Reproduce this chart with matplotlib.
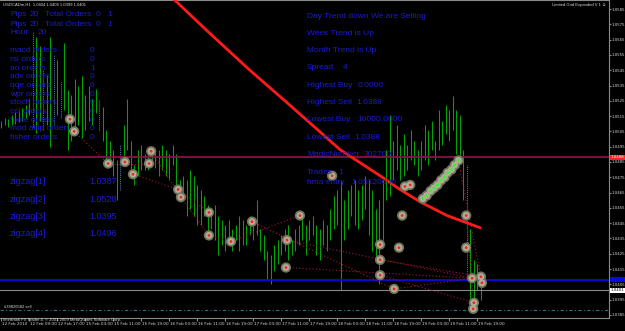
import matplotlib
matplotlib.use('Agg')
import matplotlib.pyplot as plt
import matplotlib.transforms as mtransforms
import numpy as np

# ---------------- data ----------------
bar_high = [1.0512, 1.0514, 1.0513, 1.0516, 1.0518, 1.0519, 1.0520, 1.0522, 1.0526, 1.0570,
            1.0567, 1.0561, 1.0545, 1.0542, 1.0567, 1.0555, 1.0552, 1.0537, 1.0563, 1.0532,
            1.0529, 1.0539, 1.0535, 1.0541, 1.0529, 1.0535, 1.0526, 1.0533, 1.0526, 1.0521,
            1.0506, 1.0499, 1.0493, 1.0486, 1.0496, 1.0509, 1.0526, 1.0499, 1.0483, 1.0493,
            1.0496, 1.0490, 1.0494, 1.0495, 1.0493, 1.0493, 1.0496, 1.0493, 1.0490, 1.0496,
            1.0490, 1.0473, 1.0476, 1.0473, 1.0480, 1.0476, 1.0470, 1.0467, 1.0463, 1.0457,
            1.0454, 1.0457, 1.0450, 1.0447, 1.0444, 1.0447, 1.0441, 1.0444, 1.0450, 1.0447,
            1.0444, 1.0450, 1.0447, 1.0460, 1.0441, 1.0437, 1.0427, 1.0424, 1.0431, 1.0434,
            1.0437, 1.0441, 1.0444, 1.0434, 1.0441, 1.0444, 1.0450, 1.0444, 1.0447, 1.0450,
            1.0444, 1.0441, 1.0447, 1.0444, 1.0454, 1.0463, 1.0467, 1.0473, 1.0460, 1.0467,
            1.0470, 1.0473, 1.0467, 1.0470, 1.0476, 1.0473, 1.0467, 1.0454, 1.0460, 1.0473,
            1.0493, 1.0516, 1.0499, 1.0509, 1.0496, 1.0503, 1.0496, 1.0506, 1.0499, 1.0493,
            1.0499, 1.0509, 1.0506, 1.0512, 1.0499, 1.0519, 1.0512, 1.0522, 1.0519, 1.0528,
            1.0519, 1.0516, 1.0493, 1.0483, 1.0441, 1.0421, 1.0418, 1.0414]
bar_low = [1.0507, 1.0509, 1.0508, 1.0509, 1.0510, 1.0511, 1.0512, 1.0514, 1.0516, 1.0508,
           1.0504, 1.0512, 1.0506, 1.0509, 1.0495, 1.0509, 1.0516, 1.0514, 1.0519, 1.0493,
           1.0499, 1.0506, 1.0509, 1.0501, 1.0506, 1.0512, 1.0509, 1.0517, 1.0506, 1.0499,
           1.0486, 1.0483, 1.0476, 1.0460, 1.0467, 1.0486, 1.0493, 1.0480, 1.0470, 1.0476,
           1.0480, 1.0480, 1.0480, 1.0483, 1.0481, 1.0476, 1.0480, 1.0476, 1.0473, 1.0483,
           1.0470, 1.0460, 1.0460, 1.0450, 1.0454, 1.0450, 1.0444, 1.0444, 1.0450, 1.0437,
           1.0441, 1.0434, 1.0424, 1.0431, 1.0427, 1.0434, 1.0427, 1.0434, 1.0427, 1.0431,
           1.0431, 1.0437, 1.0434, 1.0437, 1.0427, 1.0421, 1.0408, 1.0405, 1.0414, 1.0418,
           1.0424, 1.0427, 1.0421, 1.0424, 1.0427, 1.0431, 1.0434, 1.0424, 1.0434, 1.0437,
           1.0424, 1.0421, 1.0431, 1.0427, 1.0434, 1.0441, 1.0444, 1.0401, 1.0434, 1.0441,
           1.0450, 1.0444, 1.0441, 1.0447, 1.0454, 1.0437, 1.0427, 1.0421, 1.0405, 1.0434,
           1.0460, 1.0463, 1.0473, 1.0480, 1.0473, 1.0476, 1.0480, 1.0486, 1.0483, 1.0476,
           1.0480, 1.0486, 1.0483, 1.0493, 1.0486, 1.0493, 1.0496, 1.0503, 1.0499, 1.0506,
           1.0490, 1.0486, 1.0460, 1.0408, 1.0395, 1.0387, 1.0401, 1.0395]
blue_bars = [9, 12, 15, 17, 28, 34, 133]

time_labels = ["12 Feb 2010", "12 Feb 09:00", "12 Feb 17:00", "15 Feb 03:00", "15 Feb 11:00",
               "15 Feb 19:00", "16 Feb 03:00", "16 Feb 11:00", "16 Feb 19:00", "17 Feb 03:00",
               "17 Feb 11:00", "17 Feb 19:00", "18 Feb 03:00", "18 Feb 11:00", "18 Feb 19:00",
               "19 Feb 03:00", "19 Feb 11:00", "19 Feb 19:00"]
price_ticks = [1.0385 + 0.001 * k for k in range(21)]

# zigzag / signal markers (bar index, price)
mark_bar = [19.7, 20.9, 30.6, 35.4, 42.9, 42.3, 37.7, 50.6, 51.4, 59.4, 59.4, 65.7, 71.7,
            81.7, 81.4, 85.4, 94.6, 108.3, 108.3, 108.3, 114.6, 113.7, 112.3, 115.4, 116.9,
            132.9, 132.9, 134.6, 137.1, 137.4, 135.1, 134.9]
mark_price = [1.0513, 1.0505, 1.0484, 1.0485, 1.0492, 1.0484, 1.0477, 1.0467, 1.0462, 1.0452,
              1.0437, 1.0433, 1.0446, 1.0434, 1.0416, 1.0450, 1.0476, 1.0431, 1.0421, 1.0411,
              1.0450, 1.0429, 1.0402, 1.0469, 1.0470, 1.0450, 1.0429, 1.0409, 1.0410, 1.0406,
              1.0393, 1.0389]
chain_bar = [120.5, 121.6, 122.7, 123.7, 124.7, 125.7, 126.7, 127.6, 128.7, 129.6, 130.7]
chain_price = [1.0461, 1.0463, 1.0466, 1.0468, 1.0470, 1.0473, 1.0475, 1.0478, 1.0480, 1.0483, 1.0486]

# dotted connector segments (from bar, from price, to bar, to price)
seg_b0 = [20.9, 30.6, 37.7, 50.6, 42.9, 51.4, 59.4, 65.7, 81.4, 81.7, 108.3, 130.7, 132.9, 108.3, 112.3, 71.7]
seg_p0 = [1.0505, 1.0484, 1.0477, 1.0467, 1.0492, 1.0462, 1.0437, 1.0433, 1.0416, 1.0434, 1.0421, 1.0486, 1.0450, 1.0411, 1.0402, 1.0446]
seg_b1 = [30.6, 42.3, 50.6, 59.4, 51.4, 59.4, 65.7, 85.4, 134.6, 134.6, 137.1, 137.4, 135.1, 135.1, 134.6, 112.3]
seg_p1 = [1.0484, 1.0484, 1.0467, 1.0452, 1.0462, 1.0437, 1.0433, 1.0450, 1.0409, 1.0409, 1.0410, 1.0406, 1.0393, 1.0393, 1.0409, 1.0402]

# red moving average (bar, price)
ma_bar = [45.4, 59.7, 71.1, 82.6, 96.9, 108.3, 114.0, 119.7, 127.4, 136.9]
ma_price = [1.0600, 1.0569, 1.0545, 1.0522, 1.0493, 1.0476, 1.0467, 1.0459, 1.0450, 1.0442]

order_line = 1.0488
blue_line = 1.0408
bid_line = 1.0401
sell_line = 1.0388

# ---------------- figure ----------------
W, H = 625, 331
fig = plt.figure(figsize=(W / 100, H / 100), dpi=100, facecolor='black')
ax = fig.add_axes([0, 13 / H, 609 / W, 318 / H], facecolor='black')
ax.set_xlim(-0.29, 173.7)
ax.set_ylim(1.03830, 1.05909)

x = np.arange(len(bar_high))
green_idx = [i for i in x if i not in blue_bars]
ax.vlines([x[i] for i in green_idx], [bar_low[i] for i in green_idx],
          [bar_high[i] for i in green_idx], colors='#00a400', lw=0.75, zorder=2)
ax.vlines([x[i] for i in blue_bars], [bar_low[i] for i in blue_bars],
          [bar_high[i] for i in blue_bars], colors='#4a78b0', lw=0.75,
          linestyles=(0, (1, 1)), zorder=2)

# horizontal lines
ax.axhline(order_line, color='#8c1048', lw=1.3, zorder=3)
ax.axhline(blue_line, color='#0a0ae0', lw=1.3, zorder=3)
ax.axhline(bid_line, color='#8a8a8a', lw=0.8, zorder=3)
ax.axhline(sell_line, color='#2a7090', lw=0.8, linestyle=(0, (3, 2, 1, 2)), zorder=3)

# MA line
ax.plot(ma_bar, ma_price, color='#ff1a1a', lw=2.0, zorder=4, solid_capstyle='round')

# dotted connectors
for b0, p0, b1, p1 in zip(seg_b0, seg_p0, seg_b1, seg_p1):
    ax.plot([b0, b1], [p0, p1], color='#a01830', lw=0.8, linestyle=(0, (1, 2)), zorder=3)

# markers
for bx, py, cc in ((mark_bar, mark_price, '#ff2020'), (chain_bar, chain_price, '#20ff20')):
    ax.scatter(bx, py, s=55, color='#747460', edgecolors='none', zorder=5)
    ax.scatter(bx, py, s=24, color='#b0ae96', edgecolors='none', zorder=6)
    ax.scatter(bx, py, s=4, color=cc, edgecolors='none', zorder=7)

# axes styling
ax.spines['left'].set_visible(False)
for s in ['right', 'bottom', 'top']:
    ax.spines[s].set_color('#8a8a8a')
    ax.spines[s].set_linewidth(0.8)
ax.yaxis.tick_right()
ax.set_yticks(price_ticks)
ax.set_yticklabels([f"{v:.4f}" for v in price_ticks])
ax.tick_params(axis='y', colors='#8a8a8a', labelcolor='#d8d8d8', labelsize=2.8, length=1.5, pad=0.6)
ax.set_xticks(np.arange(0, 8 * len(time_labels), 8))
ax.set_xticklabels(time_labels)
ax.tick_params(axis='x', colors='#8a8a8a', labelcolor='#d8d8d8', labelsize=3.0, length=2, pad=1)
off = mtransforms.ScaledTranslation(1 / 100, 0, fig.dpi_scale_trans)
for lbl in ax.get_xticklabels():
    lbl.set_ha('left')
    lbl.set_transform(lbl.get_transform() + off)

# price boxes on the right scale
bt = mtransforms.blended_transform_factory(ax.transAxes, ax.transData)
ax.text(1.003, order_line, "1.0488", transform=bt, fontsize=2.8, color='white', va='center', ha='left',
        bbox=dict(facecolor='#ff2020', edgecolor='none', pad=0.5), zorder=10, clip_on=False)
ax.text(1.003, blue_line, "1.0408", transform=bt, fontsize=2.8, color='#0a0ae0', va='center', ha='left',
        bbox=dict(facecolor='#0a0ae0', edgecolor='none', pad=0.5), zorder=10, clip_on=False)
ax.text(1.003, bid_line, "1.0401", transform=bt, fontsize=2.8, color='black', va='center', ha='left',
        bbox=dict(facecolor='white', edgecolor='none', pad=0.3), zorder=10, clip_on=False)

# ---------------- text overlays ----------------
FONT = 'Liberation Sans'
BLUE = '#1c1cd0'

def t(px, py, s, size=6.0, color=BLUE, ha='left'):
    fig.text(px / W, 1 - py / H, s, fontsize=size, color=color, ha=ha, va='center',
             family=FONT, zorder=20)

for py in (15, 24):
    t(10, py, "Pips"); t(30, py, "20"); t(45, py, "Total Orders"); t(96, py, "0"); t(107, py, "1")
t(10, 33, "Hour"); t(38, 33, "20")

order_names = ["macd orders", "rsi orders", "ao orders", "adx orders", "qqe orders", "wpr orders",
               "stoch orders", "cci orders", "fpole orders", "mod allip orders", "fisher orders"]
order_counts = ["0", "0", "1", "0", "0", "0", "0", "0", "0", "0", "0"]
for k, (n, c) in enumerate(zip(order_names, order_counts)):
    py = 51 + k * 8.65
    t(10, py, n)
    t(90, py, c)

zz_names = ["zigzag[1]", "zigzag[2]", "zigzag[3]", "zigzag[4]"]
zz_vals = ["1.0387", "1.0528", "1.0395", "1.0496"]
for k, (n, v) in enumerate(zip(zz_names, zz_vals)):
    py = 182 + k * 17.3
    t(10, py, n, size=6.5)
    t(89, py, v, size=6.5)

right_lab = ["Day Trend down We are Selling", "Week Trend is Up", "Month Trend is Up", "Spread",
             "Highest Buy", "Highest Sell", "Lowest Buy", "Lowest Sell", "MagicNumber"]
right_val = ["", "", "", "4", "0.0000", "1.0388", "10000.0000", "1.0388", "302700"]
right_vx = [0, 0, 0, 343, 358, 356, 357, 354, 364]
for k, (n, v, vx) in enumerate(zip(right_lab, right_val, right_vx)):
    py = 16 + k * 17.3
    t(307, py, n)
    if v:
        t(vx, py, v)
t(307, 173, "Trades"); t(338, 173, "1")
t(307, 182, "hma entry"); t(351, 182, "1.05120000")

# small white labels
t(3, 5, "USDCADm,H1  1.0404 1.0408 1.0399 1.0401", size=3.0, color='#d8d8d8')
t(606, 5, "Limited Grid Expanded V 1 \u263a", size=3.0, color='#d8d8d8', ha='right')
t(4, 307, "#38826582 sell", size=3.0, color='#d8d8d8')
t(3, 320, "Interbank FX Trader 4, \u00a9 2001-2009 MetaQuotes Software Corp.", size=3.0, color='#d8d8d8')

fig.savefig('out.png', dpi=100, facecolor='black')
